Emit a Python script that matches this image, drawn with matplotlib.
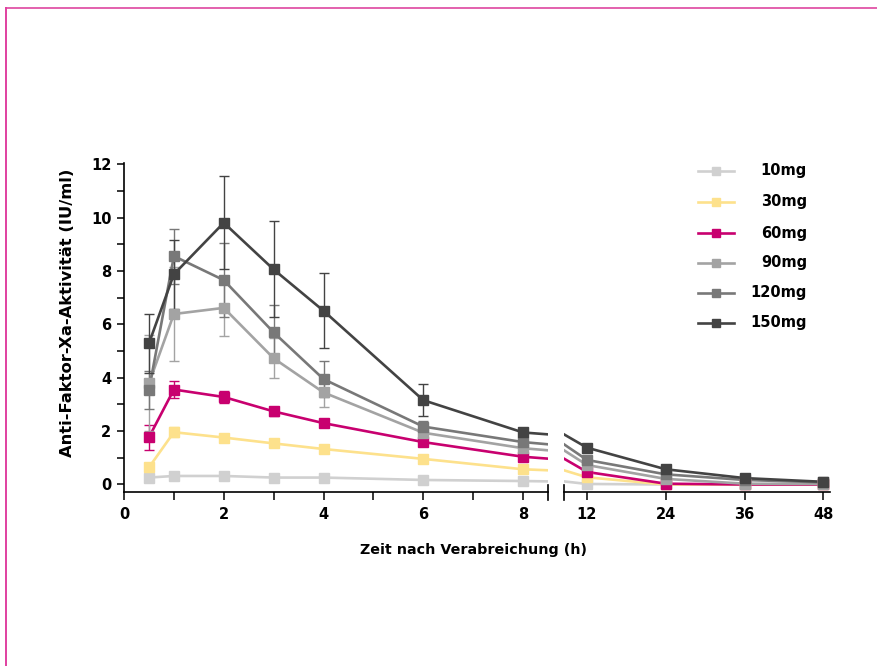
import matplotlib
matplotlib.use('Agg')
import matplotlib.pyplot as plt
from matplotlib.lines import Line2D
import numpy as np

plt.rcParams['font.family'] = ['DejaVu Sans']
plt.rcParams['font.weight'] = 'bold'

# Zeitpunkte (h)
times = [0.5, 1, 2, 3, 4, 6, 8, 12, 24, 36, 48]

doses = ['10mg', '30mg', '60mg', '90mg', '120mg', '150mg']
colors = ['#d0d0d0', '#fde18c', '#c8006f', '#a3a3a3', '#787878', '#434343']

act_10 = [0.26, 0.32, 0.32, 0.26, 0.26, 0.17, 0.13, 0.02, 0.0, 0.0, 0.0]
act_30 = [0.64, 1.96, 1.76, 1.54, 1.33, 0.96, 0.57, 0.27, 0.0, 0.0, 0.0]
act_60 = [1.77, 3.56, 3.28, 2.74, 2.30, 1.59, 1.04, 0.47, 0.03, 0.0, 0.0]
act_90 = [3.79, 6.39, 6.62, 4.73, 3.45, 1.94, 1.36, 0.73, 0.21, 0.03, 0.02]
act_120 = [3.54, 8.56, 7.66, 5.70, 3.95, 2.17, 1.59, 0.92, 0.38, 0.17, 0.08]
act_150 = [5.29, 7.88, 9.81, 8.06, 6.51, 3.16, 1.95, 1.38, 0.57, 0.24, 0.10]

err_10 = [0.05, 0.05, 0.05, 0.04, 0.04, 0.03, 0.0, 0.0, 0.0, 0.0, 0.0]
err_30 = [0.15, 0.18, 0.1, 0.08, 0.06, 0.05, 0.0, 0.0, 0.0, 0.0, 0.0]
err_60 = [0.46, 0.33, 0.24, 0.18, 0.1, 0.08, 0.0, 0.0, 0.0, 0.0, 0.0]
err_90 = [1.8, 1.75, 1.05, 0.75, 0.53, 0.2, 0.0, 0.0, 0.0, 0.0, 0.0]
err_120 = [0.7, 1.03, 1.4, 1.03, 0.67, 0.2, 0.0, 0.0, 0.0, 0.0, 0.0]
err_150 = [1.1, 1.3, 1.75, 1.8, 1.4, 0.6, 0.0, 0.0, 0.0, 0.0, 0.0]

series = [act_10, act_30, act_60, act_90, act_120, act_150]
errors = [err_10, err_30, err_60, err_90, err_120, err_150]

BREAK = 8.5
W, H = 877, 666
fig = plt.figure(figsize=(W / 100, H / 100), dpi=100)

ax_bot, ax_top = 491.7, 163
ax1 = fig.add_axes([124 / W, 1 - ax_bot / H, (548 - 124) / W, (ax_bot - ax_top) / H])
ax2 = fig.add_axes([564 / W, 1 - ax_bot / H, (830 - 564) / W, (ax_bot - ax_top) / H])

left_idx = [i for i, t in enumerate(times) if t < BREAK]
right_idx = [i for i, t in enumerate(times) if t > BREAK]

for ax, idx in ((ax1, left_idx), (ax2, right_idx)):
    for vals, errs, col in zip(series, errors, colors):
        # Linie über den Bruch hinweg, Marker nur im eigenen Bereich
        ax.plot(times, vals, color=col, lw=1.9)
        ax.errorbar([times[i] for i in idx], [vals[i] for i in idx],
                    yerr=[errs[i] for i in idx], color=col, lw=0,
                    marker='s', markersize=6.5, elinewidth=1.0, capsize=3.5,
                    capthick=1.0, ecolor=col)
    ax.set_ylim(-0.27, 12.05)
    for s in ['top', 'right']:
        ax.spines[s].set_visible(False)
    ax.spines['bottom'].set_linewidth(1.2)
    ax.tick_params(axis='x', which='both', direction='out', length=6, width=1.1,
                   labelsize=10.5, pad=5)

ax1.set_xlim(0, BREAK)
ax1.set_xticks([0, 2, 4, 6, 8])
ax1.set_xticks([1, 3, 5, 7], minor=True)
ax1.set_yticks(range(0, 13, 2))
ax1.set_yticks(range(1, 12, 2), minor=True)
ax1.spines['left'].set_linewidth(1.2)
ax1.tick_params(axis='y', which='both', direction='out', length=5, width=1.1,
                labelsize=10.5, pad=4)

ax2.set_xlim(BREAK, 49)
ax2.set_xticks([12, 24, 36, 48])
ax2.spines['left'].set_visible(False)
ax2.set_yticks([])

# Achsenbruch-Markierungen
ax1.plot([1, 1], [-0.024, 0.021], transform=ax1.transAxes, color='black',
         lw=1.2, clip_on=False)
ax2.plot([0, 0], [-0.024, 0.021], transform=ax2.transAxes, color='black',
         lw=1.2, clip_on=False)

fig.text(474 / W, 1 - 550 / H, 'Zeit nach Verabreichung (h)', ha='center',
         va='center', fontsize=10.3, fontweight='bold')
fig.text(68 / W, 1 - 313 / H, 'Anti-Faktor-Xa-Aktivität (IU/ml)', ha='center',
         va='center', rotation=90, fontsize=11.8, fontweight='bold')

# Legende
leg_y = [171, 202, 233, 263, 293, 323]
for name, col, yy in zip(doses, colors, leg_y):
    fig.add_artist(Line2D([698 / W, 734 / W], [1 - yy / H, 1 - yy / H],
                          color=col, lw=1.9, transform=fig.transFigure))
    fig.add_artist(Line2D([716 / W], [1 - yy / H], color=col, marker='s',
                          markersize=6, transform=fig.transFigure))
    fig.text(807 / W, 1 - yy / H, name, ha='right', va='center',
             fontsize=10.5, fontweight='bold')

# Rahmen
fig.add_artist(Line2D([6 / W, 1], [1 - 8 / H, 1 - 8 / H], color='#e360ad',
                      lw=1.4, transform=fig.transFigure))
fig.add_artist(Line2D([6 / W, 6 / W], [1 - 8 / H, 0], color='#e040a0',
                      lw=1.4, transform=fig.transFigure))

fig.savefig('out.png', dpi=100)
